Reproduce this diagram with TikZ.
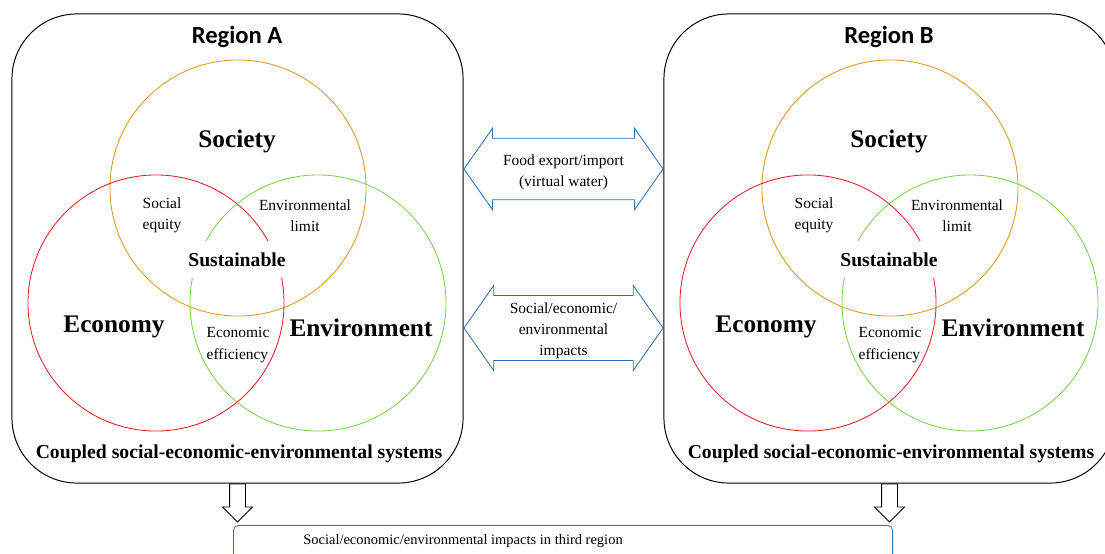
\documentclass[tikz,border=0pt]{standalone}
\usepackage{fontspec}
\setmainfont{Liberation Serif}
\newfontfamily\regionfont{Carlito}
\usetikzlibrary{shapes.arrows,positioning}

\definecolor{socorange}{RGB}{222,152,32}
\definecolor{ecored}{RGB}{232,28,36}
\definecolor{envgreen}{RGB}{124,208,76}
\definecolor{linkblue}{RGB}{46,112,180}

\tikzset{
  regionbox/.style={draw=black, line width=0.7pt, rounded corners=1.625cm,
    minimum width=11.275cm, minimum height=11.725cm},
  regiontitle/.style={font=\regionfont\bfseries\fontsize{17.5}{20}\selectfont},
  venn/.style={circle, line width=0.6pt, minimum size=6.4cm, inner sep=0pt},
  big/.style={font=\bfseries\fontsize{18}{20}\selectfont},
  small/.style={font=\fontsize{11}{15}\selectfont},
  sust/.style={fill=white, inner xsep=0pt, minimum height=0.925cm,
    font=\bfseries\fontsize{14}{16}\selectfont},
  coupled/.style={font=\bfseries\fontsize{14}{16}\selectfont},
  linkarrow/.style={double arrow, draw=linkblue, line width=0.6pt,
    double arrow head extend=0.25cm, double arrow tip angle=110,
    minimum height=4.975cm, minimum width=1.95cm, align=center,
    font=\fontsize{11}{15}\selectfont},
  downarrow/.style={single arrow, draw=black, line width=0.6pt,
    shape border rotate=270, single arrow head extend=0.175cm,
    single arrow tip angle=90, minimum height=0.95cm, minimum width=0.725cm,
    inner sep=0.1875cm},
  thirdbox/.style={draw=linkblue, line width=0.6pt, rounded corners=0.125cm,
    minimum width=16.475cm, minimum height=1.5cm, anchor=north west}
}

\begin{document}
\begin{tikzpicture}[x=0.025cm, y=-0.025cm]
\clip (0,0) rectangle (1105,553);

% the two regions, B is a copy of A moved to the right
\foreach \r/\dx in {A/0, B/652} {
\begin{scope}[shift={(\dx,0)}]
\node (box\r) [regionbox] at (237.5,248.5) {};
\node (title\r) [regiontitle] at (237,37) {Region \r};

\node (soc\r) [venn, draw=socorange] at (238,188) {};
\node (eco\r) [venn, draw=ecored] at (156,303) {};
\node (env\r) [venn, draw=envgreen] at (318,303) {};

\node (society\r) [big] at (237,141) {Society};
\node (economy\r) [big] at (114,327) {Economy};
\node (environment\r) [big] at (361,328) {Environment};
\node (equity\r) [small, align=left] at (162,215) {Social\\equity};
\node (limit\r) [small, align=center] at (305,216) {Environmental\\limit};
\node (efficiency\r) [small, align=left] at (238,345) {Economic\\efficiency};
\node (sust\r) [sust] at (237,259.5) {Sustainable};
\node (coupled\r) [coupled] at (239,454) {Coupled social-economic-environmental systems};

\node (down\r) [downarrow, anchor=tail] at (box\r.south) {};
\end{scope}
}

% flows between A and B
\node (food) [linkarrow, inner ysep=6.95pt] at (563.5,169)
  {\rule{0pt}{11.8pt}Food export/import\\(virtual water)};
\node (impacts) [linkarrow, inner ysep=0.75pt] at (563.5,328)
  {\rule{0pt}{11.8pt}Social/economic/\\environmental\\impacts};

\node (third) [thirdbox] at (233,525) {};
\node (thirdtext) [font=\fontsize{10.3}{12}\selectfont] at (463,541) {Social/economic/environmental impacts in third region};
\end{tikzpicture}
\end{document}
